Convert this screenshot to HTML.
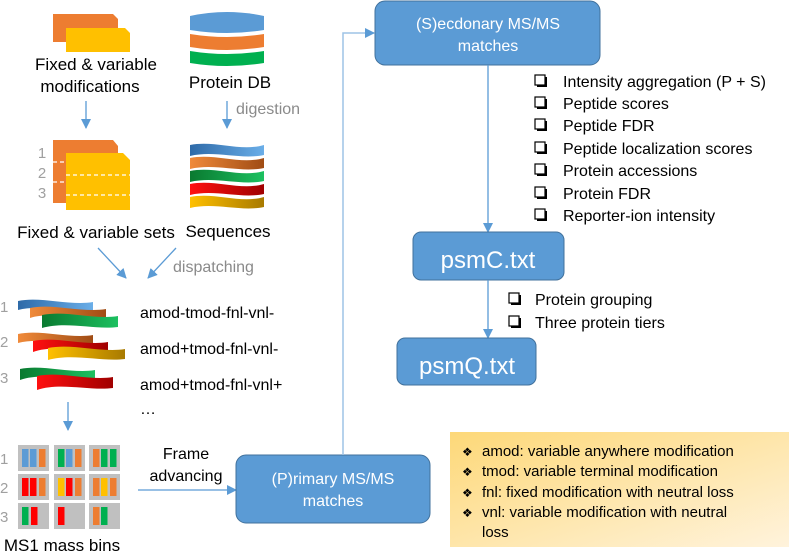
<!DOCTYPE html>
<html><head><meta charset="utf-8"><style>
body{margin:0;background:#fff}
svg{display:block;font-family:"Liberation Sans",sans-serif}
</style></head><body>
<svg width="789" height="555" viewBox="0 0 789 555" xmlns="http://www.w3.org/2000/svg">
<defs>
<marker id="ah" markerWidth="10" markerHeight="10" refX="9" refY="5" orient="auto" markerUnits="userSpaceOnUse"><path d="M0,0 L10,5 L0,10 Z" fill="#5b9bd5"/></marker>
<linearGradient id="gB" x1="0" x2="1"><stop offset="0" stop-color="#2e6aa8"/><stop offset="1" stop-color="#6aaee8"/></linearGradient>
<linearGradient id="gO" x1="0" x2="1"><stop offset="0" stop-color="#f08a3a"/><stop offset="1" stop-color="#a04c14"/></linearGradient>
<linearGradient id="gG" x1="0" x2="1"><stop offset="0" stop-color="#0a7a30"/><stop offset="1" stop-color="#1cc060"/></linearGradient>
<linearGradient id="gR" x1="0" x2="1"><stop offset="0" stop-color="#ff1010"/><stop offset="1" stop-color="#a00000"/></linearGradient>
<linearGradient id="gY" x1="0" x2="1"><stop offset="0" stop-color="#ffc000"/><stop offset="1" stop-color="#a87a00"/></linearGradient>
<linearGradient id="gBox" x1="0" y1="0" x2="1" y2="1"><stop offset="0" stop-color="#fdd878"/><stop offset="1" stop-color="#fff3dc"/></linearGradient>
</defs>

<!-- modifications folders -->
<path d="M53,14 H113 L118,19 V42 H53 Z" fill="#ed7d31"/>
<path d="M66,28 H125 L130,33 V52 H66 Z" fill="#ffc000"/>
<text x="96" y="70" font-size="17" text-anchor="middle">Fixed &amp; variable</text>
<text x="90" y="92" font-size="17" text-anchor="middle">modifications</text>

<!-- Protein DB cylinder -->
<path d="M190,16 Q227,8 264,16 V30 Q227,36 190,30 Z" fill="#5b9bd5"/>
<path d="M190,34 Q227,40 264,34 V47 Q227,53 190,47 Z" fill="#ed7d31"/>
<path d="M190,51 Q227,57 264,51 V63 Q227,69 190,63 Z" fill="#00b050"/>
<text x="230" y="88" font-size="17" text-anchor="middle">Protein DB</text>

<line x1="86" y1="101" x2="86" y2="128" stroke="#5b9bd5" stroke-width="1.3" marker-end="url(#ah)"/>
<line x1="227" y1="101" x2="227" y2="128" stroke="#5b9bd5" stroke-width="1.3" marker-end="url(#ah)"/>
<text x="236" y="114" font-size="16" fill="#8a8a8a">digestion</text>

<!-- sets -->
<path d="M53,140 H113 L118,146 V203 H53 Z" fill="#ed7d31"/>
<path d="M66,153 H123 L130,160 V210 H66 Z" fill="#ffc000"/>
<g stroke="#fff" stroke-dasharray="4,3" stroke-width="1.3">
<line x1="53" y1="162" x2="66" y2="162"/><line x1="66" y1="175" x2="130" y2="175"/>
<line x1="53" y1="182" x2="66" y2="182"/><line x1="66" y1="195" x2="130" y2="195"/>
</g>
<g font-size="15" fill="#a0a0a0" text-anchor="middle">
<text x="42" y="158">1</text><text x="42" y="178">2</text><text x="42" y="198">3</text>
</g>
<text x="96" y="238" font-size="17" text-anchor="middle">Fixed &amp; variable sets</text>

<!-- sequences -->
<g>
<path d="M190,145 C215,140 240,152 264,145 V155 C240,160 215,150 190,156 Z" fill="url(#gB)"/>
<path d="M190,158 C215,153 240,165 264,158 V168 C240,173 215,163 190,169 Z" fill="url(#gO)"/>
<path d="M190,171 C215,166 240,178 264,171 V181 C240,186 215,176 190,182 Z" fill="url(#gG)"/>
<path d="M190,184 C215,179 240,191 264,184 V194 C240,199 215,189 190,195 Z" fill="url(#gR)"/>
<path d="M190,197 C215,192 240,204 264,197 V207 C240,212 215,202 190,208 Z" fill="url(#gY)"/>
</g>
<text x="228" y="237" font-size="17" text-anchor="middle">Sequences</text>

<line x1="98" y1="248" x2="126" y2="278" stroke="#5b9bd5" stroke-width="1.3" marker-end="url(#ah)"/>
<line x1="176" y1="248" x2="148" y2="278" stroke="#5b9bd5" stroke-width="1.3" marker-end="url(#ah)"/>
<text x="173" y="272" font-size="16" fill="#8a8a8a">dispatching</text>

<!-- ribbon groups -->
<g font-size="15" fill="#a0a0a0">
<text x="0" y="312">1</text><text x="0" y="347">2</text><text x="0" y="383">3</text>
</g>
<g>
<path d="M18,301 C40,296 70,306 93,302 V310 C70,313 40,304 18,310 Z" fill="url(#gB)"/>
<path d="M30,308 C52,303 82,313 106,309 V318 C82,320 52,311 30,318 Z" fill="url(#gO)"/>
<path d="M42,315 C66,310 95,320 118,316 V327 C95,330 66,321 42,328 Z" fill="url(#gG)"/>
<path d="M18,334 C40,329 70,339 93,335 V343 C70,346 40,337 18,343 Z" fill="url(#gO)"/>
<path d="M33,341 C55,336 85,346 108,342 V351 C85,353 55,344 33,352 Z" fill="url(#gR)"/>
<path d="M48,348 C72,343 102,353 125,349 V359 C102,362 72,353 48,360 Z" fill="url(#gY)"/>
<path d="M20,369 C42,364 72,374 95,370 V378 C72,381 42,372 20,380 Z" fill="url(#gG)"/>
<path d="M37,376 C60,371 90,381 113,377 V388 C90,391 60,382 37,390 Z" fill="url(#gR)"/>
</g>
<g font-size="16">
<text x="140" y="318">amod-tmod-fnl-vnl-</text>
<text x="140" y="354">amod+tmod-fnl-vnl-</text>
<text x="140" y="390">amod+tmod-fnl-vnl+</text>
<text x="140" y="414">…</text>
</g>
<line x1="68" y1="402" x2="68" y2="430" stroke="#5b9bd5" stroke-width="1.3" marker-end="url(#ah)"/>

<!-- mass bins -->
<g font-size="15" fill="#a0a0a0">
<text x="0" y="464">1</text><text x="0" y="493">2</text><text x="0" y="522">3</text>
</g>
<g fill="#c0c0c0">
<rect x="18" y="445" width="31" height="26"/><rect x="54" y="445" width="31" height="26"/><rect x="89" y="445" width="31" height="26"/>
<rect x="18" y="474" width="31" height="26"/><rect x="54" y="474" width="31" height="26"/><rect x="89" y="474" width="31" height="26"/>
<rect x="18" y="503" width="31" height="26"/><rect x="54" y="503" width="31" height="26"/><rect x="89" y="503" width="31" height="26"/>
</g>
<g>
<rect x="22" y="449" width="6.5" height="18" fill="#5b9bd5"/><rect x="30" y="449" width="6.5" height="18" fill="#5b9bd5"/><rect x="39" y="449" width="6.5" height="18" fill="#ed7d31"/>
<rect x="58" y="449" width="6.5" height="18" fill="#00b050"/><rect x="66" y="449" width="6.5" height="18" fill="#5b9bd5"/><rect x="75" y="449" width="6.5" height="18" fill="#ed7d31"/>
<rect x="93" y="449" width="6.5" height="18" fill="#ed7d31"/><rect x="101" y="449" width="6.5" height="18" fill="#00b050"/><rect x="110" y="449" width="6.5" height="18" fill="#00b050"/>
<rect x="22" y="478" width="6.5" height="18" fill="#ff0000"/><rect x="30" y="478" width="6.5" height="18" fill="#ff0000"/><rect x="39" y="478" width="6.5" height="18" fill="#ed7d31"/>
<rect x="58" y="478" width="6.5" height="18" fill="#ffc000"/><rect x="66" y="478" width="6.5" height="18" fill="#ff0000"/><rect x="75" y="478" width="6.5" height="18" fill="#ed7d31"/>
<rect x="93" y="478" width="6.5" height="18" fill="#ed7d31"/><rect x="101" y="478" width="6.5" height="18" fill="#ffc000"/><rect x="110" y="478" width="6.5" height="18" fill="#ed7d31"/>
<rect x="22" y="507" width="6.5" height="18" fill="#00b050"/><rect x="31" y="507" width="6.5" height="18" fill="#ff0000"/>
<rect x="58" y="507" width="6.5" height="18" fill="#ff0000"/>
<rect x="93" y="507" width="6.5" height="18" fill="#ed7d31"/><rect x="101" y="507" width="6.5" height="18" fill="#00b050"/>
</g>
<text x="62" y="551" font-size="17" text-anchor="middle">MS1 mass bins</text>

<!-- frame advancing -->
<text x="186" y="459" font-size="16" text-anchor="middle">Frame</text>
<text x="186" y="481" font-size="16" text-anchor="middle">advancing</text>
<line x1="138" y1="490" x2="236" y2="490" stroke="#5b9bd5" stroke-width="1.3" marker-end="url(#ah)"/>

<!-- P box -->
<rect x="236" y="455" width="194" height="68" rx="10" fill="#5b9bd5" stroke="#41719c" stroke-width="1"/>
<text x="333" y="484" font-size="16" fill="#fff" text-anchor="middle">(P)rimary MS/MS</text>
<text x="333" y="506" font-size="16" fill="#fff" text-anchor="middle">matches</text>

<polyline points="343,455 343,33 374,33" fill="none" stroke="#9dc3e6" stroke-width="1.5" marker-end="url(#ah)"/>

<!-- S box -->
<rect x="375" y="1" width="225" height="64" rx="10" fill="#5b9bd5" stroke="#41719c" stroke-width="1"/>
<text x="488" y="29" font-size="16" fill="#fff" text-anchor="middle">(S)ecdonary MS/MS</text>
<text x="488" y="51" font-size="16" fill="#fff" text-anchor="middle">matches</text>

<line x1="488" y1="65" x2="488" y2="232" stroke="#5b9bd5" stroke-width="1.3" marker-end="url(#ah)"/>

<g font-size="16">
<g fill="none" stroke="#000" stroke-width="1.2">
<rect x="535" y="75" width="10" height="10"/><rect x="535" y="97" width="10" height="10"/><rect x="535" y="119" width="10" height="10"/>
<rect x="535" y="142" width="10" height="10"/><rect x="535" y="164" width="10" height="10"/><rect x="535" y="187" width="10" height="10"/>
<rect x="535" y="209" width="10" height="10"/>
<rect x="509" y="293" width="10" height="10"/><rect x="509" y="316" width="10" height="10"/>
</g>
<g fill="#000">
<rect x="545" y="77" width="2" height="10"/><rect x="537" y="85" width="10" height="2"/>
<rect x="545" y="99" width="2" height="10"/><rect x="537" y="107" width="10" height="2"/>
<rect x="545" y="121" width="2" height="10"/><rect x="537" y="129" width="10" height="2"/>
<rect x="545" y="144" width="2" height="10"/><rect x="537" y="152" width="10" height="2"/>
<rect x="545" y="166" width="2" height="10"/><rect x="537" y="174" width="10" height="2"/>
<rect x="545" y="189" width="2" height="10"/><rect x="537" y="197" width="10" height="2"/>
<rect x="545" y="211" width="2" height="10"/><rect x="537" y="219" width="10" height="2"/>
<rect x="519" y="295" width="2" height="10"/><rect x="511" y="303" width="10" height="2"/>
<rect x="519" y="318" width="2" height="10"/><rect x="511" y="326" width="10" height="2"/>
</g>
<text x="563" y="87">Intensity aggregation (P + S)</text>
<text x="563" y="109">Peptide scores</text>
<text x="563" y="131">Peptide FDR</text>
<text x="563" y="154">Peptide localization scores</text>
<text x="563" y="176">Protein accessions</text>
<text x="563" y="199">Protein FDR</text>
<text x="563" y="221">Reporter-ion intensity</text>
<text x="535" y="305">Protein grouping</text>
<text x="535" y="328">Three protein tiers</text>
</g>

<!-- psmC -->
<rect x="413" y="232" width="151" height="48" rx="8" fill="#5b9bd5" stroke="#41719c" stroke-width="1"/>
<text x="488" y="268" font-size="24" fill="#fff" text-anchor="middle">psmC.txt</text>
<line x1="488" y1="280" x2="488" y2="338" stroke="#5b9bd5" stroke-width="1.3" marker-end="url(#ah)"/>

<!-- psmQ -->
<rect x="397" y="338" width="139" height="47" rx="8" fill="#5b9bd5" stroke="#41719c" stroke-width="1"/>
<text x="467" y="374" font-size="24" fill="#fff" text-anchor="middle">psmQ.txt</text>

<!-- legend -->
<rect x="450" y="432" width="339" height="115" fill="url(#gBox)"/>
<g font-size="15">
<text x="462" y="456" font-size="12">❖</text><text x="482" y="456">amod: variable anywhere modification</text>
<text x="462" y="476" font-size="12">❖</text><text x="482" y="476">tmod: variable terminal modification</text>
<text x="462" y="497" font-size="12">❖</text><text x="482" y="497">fnl: fixed modification with neutral loss</text>
<text x="462" y="517" font-size="12">❖</text><text x="482" y="517">vnl: variable modification with neutral</text>
<text x="482" y="537">loss</text>
</g>
</svg>
</body></html>
